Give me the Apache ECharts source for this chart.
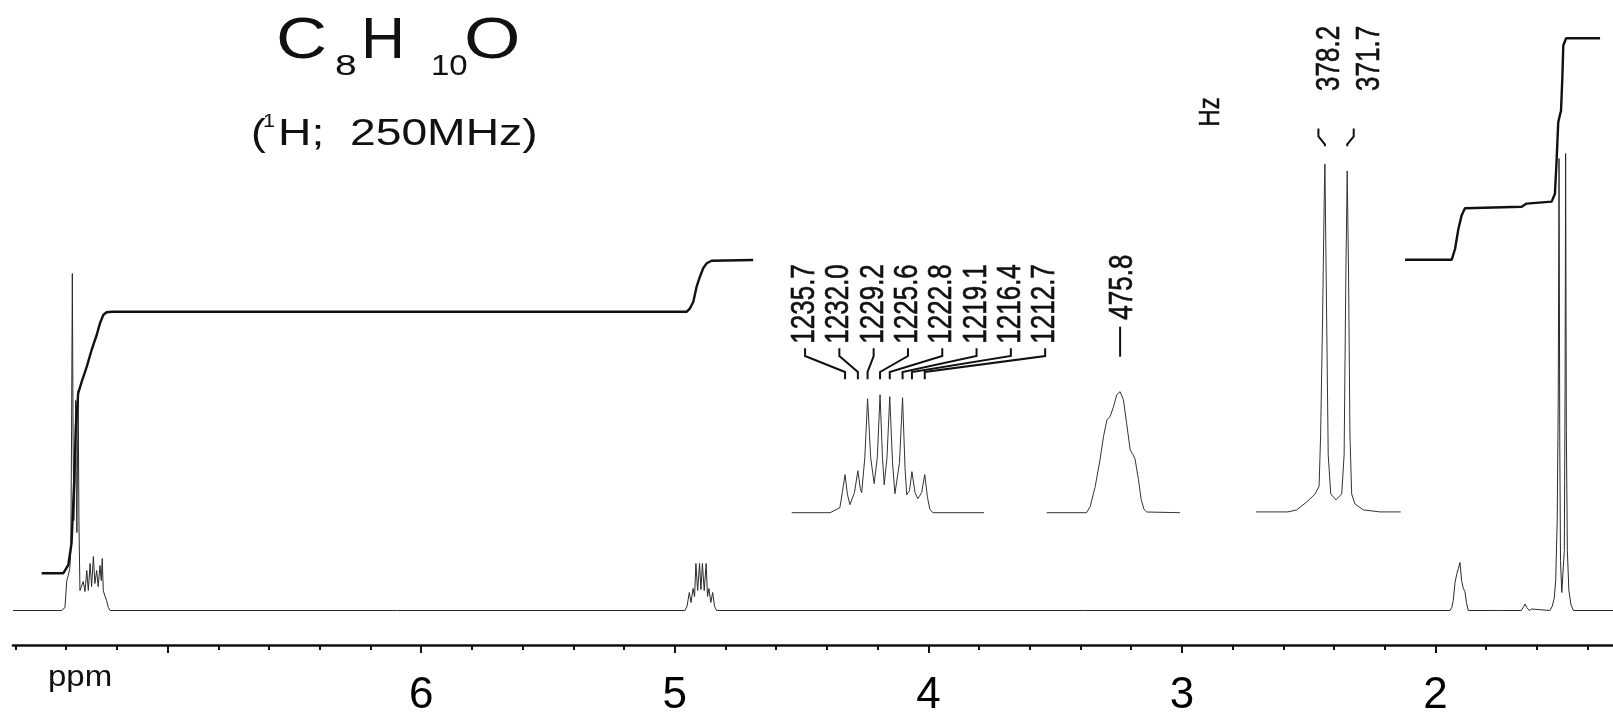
<!DOCTYPE html>
<html>
<head>
<meta charset="utf-8">
<title>C8H10O 1H NMR</title>
<script src="https://cdn.jsdelivr.net/npm/echarts@6/dist/echarts.min.js"></script>
<style>
  html, body { margin: 0; padding: 0; background: #fff; }
  #chart { width: 1613px; height: 712px; }
</style>
</head>
<body>
<div id="chart"></div>
<script>
// ---- spectrometer / axis ----
const spectrometerMHz = 250;
const ppmRange = [1.30, 7.61];
const majorTickPpm = [2, 3, 4, 5, 6, 7];
const labelPpm = [2, 3, 4, 5, 6];
const minorTickPpm = [1.4, 1.6, 1.8, 2.2, 2.4, 2.6, 2.8, 3.2, 3.4, 3.6, 3.8, 4.2, 4.4, 4.6, 4.8,
  5.2, 5.4, 5.6, 5.8, 6.2, 6.4, 6.6, 6.8, 7.2, 7.4, 7.6];

// ---- full spectrum: [ppm, intensity] ----
const aromaticTrace = [
  [7.610, 0], [7.418, 0], [7.405, 3], [7.398, 30], [7.392, 35], [7.386, 42], [7.382, 60],
  [7.379, 180], [7.376, 337], [7.373, 170], [7.370, 90], [7.366, 130], [7.363, 210],
  [7.360, 110], [7.358, 78], [7.356, 140], [7.353, 220], [7.350, 90], [7.346, 20],
  [7.340, 22], [7.333, 29], [7.326, 19], [7.319, 40], [7.313, 20], [7.306, 47], [7.300, 24],
  [7.293, 54], [7.287, 27], [7.280, 40], [7.274, 24], [7.267, 45], [7.262, 30], [7.258, 52],
  [7.254, 20], [7.247, 14], [7.241, 10], [7.234, 3], [7.227, 0]
];
const methineTrace = [
  [4.960, 0], [4.952, 4], [4.9428, 18], [4.936, 8], [4.928, 22], [4.922, 14], [4.9168, 47],
  [4.910, 20], [4.9024, 47], [4.897, 21], [4.8912, 47], [4.884, 20], [4.8764, 47],
  [4.871, 14], [4.8656, 22], [4.858, 8], [4.8508, 18], [4.843, 4], [4.835, 0]
];
const hydroxylTrace = [
  [1.943, 0], [1.936, 3], [1.930, 10], [1.923, 28], [1.9165, 36], [1.910, 42], [1.9035, 48],
  [1.897, 30], [1.8905, 22], [1.884, 19], [1.878, 8], [1.871, 0]
];
const impurityTrace = [
  [1.772, 0], [1.765, 2], [1.758, 0], [1.745, 0], [1.739, 2], [1.733, 0],
  [1.662, 0], [1.652, 4], [1.647, 6.5], [1.640, 3], [1.630, 0], [1.625, 0], [1.621, 1.5], [1.616, 0]
];
const methylTrace = [
  [1.549, 0], [1.540, 4], [1.532, 12], [1.526, 30], [1.520, 90], [1.516, 210], [1.5128, 452],
  [1.510, 170], [1.507, 50], [1.502, 18], [1.4998, 16], [1.497, 20], [1.492, 60], [1.489, 220],
  [1.4868, 457], [1.484, 180], [1.480, 60], [1.474, 20], [1.466, 6], [1.456, 0], [1.300, 0]
];

// ---- integral curves: [ppm, integral] ----
const integralLow = [
  [7.497, 37.2], [7.412, 37.2], [7.392, 45.5], [7.379, 67.5], [7.369, 127.5], [7.362, 183.8],
  [7.353, 217.2], [7.339, 228.8], [7.319, 243.8], [7.300, 260.5], [7.280, 275.5], [7.267, 287.2],
  [7.254, 295.5], [7.241, 298.2], [7.220, 298.8], [4.953, 298.8], [4.940, 302.2], [4.927, 308.8],
  [4.914, 323.8], [4.901, 333.8], [4.888, 342.2], [4.874, 347.2], [4.855, 349.8], [4.691, 350.5]
];
const integralHigh = [
  [2.120, 350.8], [1.936, 350.8], [1.923, 361.5], [1.910, 381.3], [1.897, 395.1], [1.884, 402.2],
  [1.660, 403.8], [1.641, 406.9], [1.542, 408.9], [1.529, 416.8], [1.522, 452.4], [1.516, 488.0],
  [1.509, 495.9], [1.505, 499.8], [1.500, 531.4], [1.496, 565.0], [1.485, 572.2], [1.351, 572.2]
];

// ---- expansions (Hz) ----
const methineHz = [1235.7, 1232.0, 1229.2, 1225.6, 1222.8, 1219.1, 1216.4, 1212.7];
const methineHeights = [38, 42, 114, 118, 116, 115, 41, 38];
const methineShape = [
  [1251.1, 0], [1240.0, 0], [1237.2, 5], [1236.5, 20], [1235.0, 18], [1234.3, 8], [1233.0, 20],
  [1231.3, 24], [1230.9, 20], [1230.0, 55], [1228.3, 55], [1227.3, 29], [1226.4, 55],
  [1224.9, 55], [1224.4, 28], [1223.6, 55], [1222.0, 50], [1221.3, 19], [1220.0, 50],
  [1218.4, 45], [1217.9, 18], [1217.1, 22], [1215.5, 20], [1214.7, 14], [1213.6, 20],
  [1211.9, 15], [1211.2, 3], [1210.3, 0], [1195.6, 0]
];
const hydroxylHz = [475.8];
const hydroxylHeights = [121];
const hydroxylShape = [
  [497.0, 0], [485.5, 0], [484.46, 6], [483.0, 26], [481.6, 53], [480.6, 76], [479.6, 93],
  [478.7, 96], [477.7, 106], [476.75, 118], [474.85, 113], [473.9, 89], [472.9, 63],
  [472.1, 58], [471.5, 54], [470.5, 33], [469.7, 13], [468.9, 3.4], [468.1, 0.7], [458.5, 0]
];
const methylHz = [378.2, 371.7];
const methylHeights = [348, 341];
const methylShape = [
  [398.3, 0], [389.0, 0], [386.45, 2], [383.5, 9.9], [381.1, 17.8], [379.9, 25.7], [379.45, 77],
  [378.87, 196], [378.4, 314], [377.7, 196], [377.24, 57], [376.5, 18], [375.0, 12], [373.3, 18],
  [372.6, 57], [372.1, 235], [371.3, 235], [370.9, 77], [370.4, 18], [369.45, 8], [367.0, 2],
  [362.2, 0], [356.1, 0]
];

const FONT = '"Liberation Sans", Arial, Helvetica, sans-serif';
const INK = '#111';

// merge the labelled peak maxima into the traced outline, ordered high-to-low frequency
function expansion(peaksHz, heights, shape) {
  return shape.concat(peaksHz.map((v, i) => [v, heights[i]])).sort((a, b) => b[0] - a[0]);
}

function textStyle(text, font, align, weight) {
  return {
    text: text, font: font, fill: INK,
    stroke: weight ? INK : null, lineWidth: weight || 0,
    align: align, verticalAlign: 'middle', textAlign: align, textVerticalAlign: 'middle'
  };
}

// leader lines + rotated frequency labels above an expansion
function annotations(axisIndex, values, lay) {
  return {
    type: 'custom',
    coordinateSystem: 'cartesian2d',
    xAxisIndex: axisIndex,
    yAxisIndex: axisIndex,
    silent: true,
    clip: false,
    data: values.map((v, i) => [v, i]),
    renderItem: function (params, api) {
      const i = api.value(1);
      const pt = api.coord([api.value(0), 0]);
      const px = pt[0], by = pt[1];
      const firstX = api.coord([values[0], 0])[0];
      const sx = lay.slot(i, px, firstX);
      const tx = sx + lay.textShift(i);
      return {
        type: 'group',
        children: [
          {
            type: 'polyline',
            shape: { points: [[sx, by - lay.top], [sx, by - lay.kink], [px, by - lay.diag], [px, by - lay.bottom]] },
            style: { stroke: INK, lineWidth: 2, fill: null }
          },
          {
            type: 'text',
            x: tx, y: by - lay.text,
            rotation: Math.PI / 2,
            scaleY: 1.25,
            style: textStyle(values[i].toFixed(1), '26px ' + FONT, 'left', 0.5)
          }
        ]
      };
    }
  };
}

const chart = echarts.init(document.getElementById('chart'), null, { renderer: 'canvas' });

const option = {
  backgroundColor: '#fff',
  animation: false,
  grid: [
    { left: 13, width: 1600, top: 0, height: 645, outerBoundsMode: 'none' },          // full spectrum
    { left: 791.7, width: 192.3, top: 250, height: 272.7, outerBoundsMode: 'none' },   // methine expansion
    { left: 1046.7, width: 133.3, top: 250, height: 272.7, outerBoundsMode: 'none' },  // hydroxyl expansion
    { left: 1256, width: 144.7, top: 130, height: 391.9, outerBoundsMode: 'none' }     // methyl expansion
  ],
  xAxis: [
    {
      type: 'value', gridIndex: 0, min: ppmRange[0], max: ppmRange[1], inverse: true, position: 'bottom',
      axisLine: { onZero: false, lineStyle: { color: INK, width: 2.6 } },
      axisTick: { customValues: majorTickPpm, length: 8, lineStyle: { color: INK, width: 2 } },
      axisLabel: { customValues: labelPpm, margin: 29, color: '#000', fontSize: 44, fontFamily: FONT },
      splitLine: { show: false }
    },
    { type: 'value', gridIndex: 1, min: 1195.6, max: 1251.1, inverse: true, show: false },
    { type: 'value', gridIndex: 2, min: 458.5, max: 497.0, inverse: true, show: false },
    { type: 'value', gridIndex: 3, min: 356.1, max: 398.3, inverse: true, show: false },
    {
      type: 'value', gridIndex: 0, min: ppmRange[0], max: ppmRange[1], inverse: true, position: 'bottom',
      axisLine: { show: false, onZero: false },
      axisTick: { customValues: minorTickPpm, length: 5, lineStyle: { color: INK, width: 2 } },
      axisLabel: { show: false },
      splitLine: { show: false }
    }
  ],
  yAxis: [
    { type: 'value', gridIndex: 0, min: -34.5, max: 610.5, show: false },
    { type: 'value', gridIndex: 1, min: -10, max: 262.7, show: false },
    { type: 'value', gridIndex: 2, min: -10, max: 262.7, show: false },
    { type: 'value', gridIndex: 3, min: -10, max: 381.9, show: false }
  ],
  series: [
    {
      name: 'spectrum', type: 'line', xAxisIndex: 0, yAxisIndex: 0, showSymbol: false, symbol: 'none',
      data: aromaticTrace.concat(methineTrace, hydroxylTrace, impurityTrace, methylTrace),
      lineStyle: { color: '#2a2a2a', width: 1 }
    },
    {
      name: 'integral', type: 'line', xAxisIndex: 0, yAxisIndex: 0, symbol: 'none', data: integralLow,
      lineStyle: { color: INK, width: 2.4 }
    },
    {
      name: 'integral', type: 'line', xAxisIndex: 0, yAxisIndex: 0, symbol: 'none', data: integralHigh,
      lineStyle: { color: INK, width: 2.4 }
    },
    {
      type: 'line', xAxisIndex: 1, yAxisIndex: 1, symbol: 'none', clip: false,
      data: expansion(methineHz, methineHeights, methineShape), lineStyle: { color: '#333', width: 1 }
    },
    {
      type: 'line', xAxisIndex: 2, yAxisIndex: 2, symbol: 'none', clip: false,
      data: expansion(hydroxylHz, hydroxylHeights, hydroxylShape), lineStyle: { color: '#333', width: 1 }
    },
    {
      type: 'line', xAxisIndex: 3, yAxisIndex: 3, symbol: 'none', clip: false,
      data: expansion(methylHz, methylHeights, methylShape), lineStyle: { color: '#333', width: 1 }
    },
    annotations(1, methineHz, {
      slot: function (i, px, firstX) { return firstX - 40 + i * 34.3; },
      textShift: function () { return 0; },
      top: 164.4, kink: 156.7, diag: 140.7, bottom: 133.4, text: 169
    }),
    annotations(2, hydroxylHz, {
      slot: function (i, px) { return px; },
      textShift: function () { return 3; },
      top: 186, kink: 171, diag: 171, bottom: 156, text: 193
    }),
    annotations(3, methylHz, {
      slot: function (i, px) { return px + (i === 0 ? -6.5 : 6.5); },
      textShift: function (i) { return i === 0 ? 11.5 : 16.5; },
      top: 383.4, kink: 375.5, diag: 367.6, bottom: 365.7, text: 421
    })
  ],
  graphic: [
    // molecular formula
    { type: 'text', x: 276, y: 42, scaleX: 1.22, style: textStyle('C', '58px ' + FONT, 'left') },
    { type: 'text', x: 335, y: 67, scaleX: 1.3, style: textStyle('8', '30px ' + FONT, 'left') },
    { type: 'text', x: 361, y: 42, scaleX: 1.05, style: textStyle('H', '58px ' + FONT, 'left') },
    { type: 'text', x: 431, y: 67, scaleX: 1.1, style: textStyle('10', '30px ' + FONT, 'left') },
    { type: 'text', x: 464, y: 42, scaleX: 1.25, style: textStyle('O', '58px ' + FONT, 'left') },
    // nucleus / field
    { type: 'text', x: 251, y: 135, scaleX: 1.2, style: textStyle('(', '37px ' + FONT, 'left') },
    { type: 'text', x: 263, y: 122, scaleX: 1.2, style: textStyle('1', '18px ' + FONT, 'left') },
    { type: 'text', x: 278, y: 135, scaleX: 1.25, style: textStyle('H;  ' + spectrometerMHz + 'MHz)', '37px ' + FONT, 'left') },
    // unit of the expansion labels
    { type: 'text', x: 1211, y: 112, rotation: Math.PI / 2, scaleY: 1.2, style: textStyle('Hz', '24px ' + FONT, 'center', 0.4) },
    // axis unit
    { type: 'text', x: 48, y: 678, scaleX: 1.1, style: textStyle('ppm', '30px ' + FONT, 'left') }
  ]
};

chart.setOption(option);
</script>
</body>
</html>
